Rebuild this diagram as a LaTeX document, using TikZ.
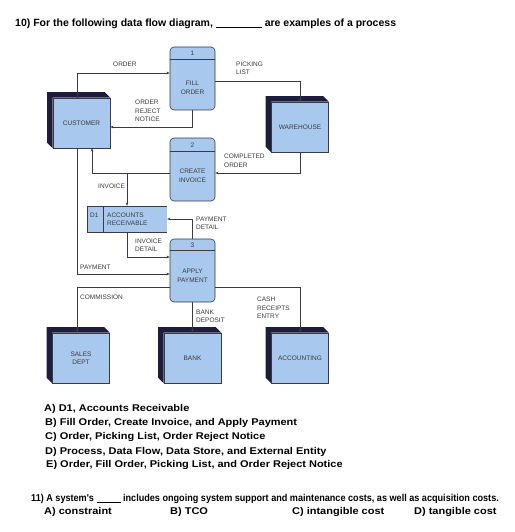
\documentclass[tikz,border=0pt]{standalone}
\usepackage{fontspec}
\setmainfont{Liberation Sans}
\newfontfamily\optfont[FakeStretch=1.12]{Liberation Sans}
\newfontfamily\narrowfont[FakeStretch=0.91]{Liberation Sans}
\usepackage{tikz}
\usetikzlibrary{positioning,arrows.meta,calc,backgrounds}
\definecolor{boxfill}{HTML}{A8C8EE}
\definecolor{navyside}{HTML}{1E1E3C}
\definecolor{edge}{HTML}{3A3A44}
\definecolor{ink}{HTML}{3C3C3C}
\newcommand{\lbl}{\fontsize{6.5}{8.5}\selectfont}

\begin{document}
\begin{tikzpicture}[
    x=1pt,y=-1pt,
    entity/.style={draw=edge,fill=boxfill,line width=0.6pt,minimum width=57pt,
                   minimum height=50pt,inner sep=0pt,align=center,font=\lbl,text=ink},
    process/.style={draw=edge,fill=boxfill,line width=0.6pt,rounded corners=4pt,
                    minimum width=45pt,minimum height=63pt,inner sep=0pt},
    store/.style={fill=boxfill,minimum width=80pt,minimum height=26pt,inner sep=0pt},
    flow/.style={draw=edge,line width=0.7pt,-{Stealth[length=3.2pt,width=2.6pt]}},
    dlabel/.style={font=\lbl,text=ink,align=left,inner sep=0pt,anchor=west},
    inbox/.style={font=\lbl,text=ink,align=center,inner sep=0pt},
    qtext/.style={font=\optfont\bfseries\fontsize{9.8}{10}\selectfont,inner sep=0pt,anchor=west}
  ]
  \useasboundingbox (0,0) rectangle (514,532);

  % question
  \node[qtext,font=\bfseries\fontsize{10.5}{12}\selectfont] (q10) at (15,24)
    {10) For the following data flow diagram, \rule[-0.8pt]{46pt}{0.7pt} are examples of a process};

  % external entities
  \node[entity] (cust) at (81.5,123) {CUSTOMER};
  \node[entity] (ware) at (300,127)  {WAREHOUSE};
  \node[entity] (sales) at (81,358)  {SALES\\DEPT};
  \node[entity] (bank) at (192.5,358) {BANK};
  \node[entity] (acct) at (300,358)  {ACCOUNTING};
  \begin{scope}[on background layer]
    \fill[white] (0,0) rectangle (514,532);
    \foreach \e in {cust,ware,sales,bank,acct}
      \fill[navyside] (\e.south west) -- ++(-5.5,-5.5) -- ($(\e.north west)+(-5.5,-5.5)$)
        -- ($(\e.north east)+(-5.5,-5.5)$) -- (\e.north east) -- (\e.north west) -- cycle;
  \end{scope}

  % processes
  \node[process] (fill) at (192.5,78.5) {};
  \node[process] (inv) at (192.5,169.5) {};
  \node[process] (pay) at (192.5,270.5) {};
  \draw[edge,line width=0.6pt] ($(fill.north west)+(0,13)$) -- ($(fill.north east)+(0,13)$);
  \draw[edge,line width=0.6pt] ($(inv.north west)+(0,14)$) -- ($(inv.north east)+(0,14)$);
  \draw[edge,line width=0.6pt] ($(pay.north west)+(0,12)$) -- ($(pay.north east)+(0,12)$);
  \node[inbox] (fillno) at (192.5,53.5) {1};
  \node[inbox] (invno) at (192.5,145.5) {2};
  \node[inbox] (payno) at (192.5,245.5) {3};
  \node[inbox] (filltx) at (192.5,88) {FILL\\ORDER};
  \node[inbox] (invtx) at (192.5,176) {CREATE\\INVOICE};
  \node[inbox] (paytx) at (192.5,276) {APPLY\\PAYMENT};

  % data store
  \node[store] (ar) at (127,219) {};
  \draw[edge,line width=0.6pt] (ar.north east) -- (ar.north west) -- (ar.south west) -- (ar.south east);
  \draw[edge,line width=0.6pt] ($(ar.north west)+(16,0)$) -- ($(ar.south west)+(16,0)$);
  \node[dlabel] (arid) at (90,215) {D1};
  \node[dlabel] (artx) at (107,219.5) {ACCOUNTS\\RECEIVABLE};

  % data flows
  \draw[flow] ([xshift=-4.5pt]cust.north) |- ([yshift=5.5pt]fill.west);
  \draw[flow] (fill.south) |- ([yshift=-4pt]cust.east);
  \draw[flow] ([yshift=-2.5pt]fill.east) -| (ware.north);
  \draw[flow] (ware.south) |- ([yshift=-3.5pt]inv.east);
  \draw[flow] ([yshift=-3.5pt]inv.west) -| ([xshift=10.5pt]cust.south);
  \coordinate (invsplit) at (127,173);
  \draw[flow] (invsplit) -- (ar.north);
  \draw[flow] (pay.north) |- (ar.east);
  \draw[flow] (ar.south) |- ([yshift=13.5pt]pay.west);
  \draw[flow] ([xshift=-4.5pt]cust.south) |- ([yshift=-3.5pt]pay.west);
  \draw[flow] ([yshift=-16.5pt]pay.west) -| ([xshift=-4pt]sales.north);
  \draw[flow] ([yshift=-16.5pt]pay.east) -| (acct.north);
  \draw[flow] (pay.south) -- (bank.north);

  % flow labels
  \node[dlabel] (lorder) at (113,64) {ORDER};
  \node[dlabel] (lpick) at (236,68.5) {PICKING\\LIST};
  \node[dlabel] (lreject) at (135,111) {ORDER\\REJECT\\NOTICE};
  \node[dlabel] (ldone) at (224,161) {COMPLETED\\ORDER};
  \node[dlabel] (linv) at (98,186) {INVOICE};
  \node[dlabel] (lpdet) at (196,223.5) {PAYMENT\\DETAIL};
  \node[dlabel] (lidet) at (135,245) {INVOICE\\DETAIL};
  \node[dlabel] (lpay) at (80,267) {PAYMENT};
  \node[dlabel] (lcomm) at (80,297) {COMMISSION};
  \node[dlabel] (lcash) at (257,308) {CASH\\RECEIPTS\\ENTRY};
  \node[dlabel] (lbank) at (196,316.5) {BANK\\DEPOSIT};

  % answers
  \node[qtext] (ansa) at (44,409) {A) D1, Accounts Receivable};
  \node[qtext] (ansb) at (45,423) {B) Fill Order, Create Invoice, and Apply Payment};
  \node[qtext] (ansc) at (45,437) {C) Order, Picking List, Order Reject Notice};
  \node[qtext] (ansd) at (45,451.5) {D) Process, Data Flow, Data Store, and External Entity};
  \node[qtext] (anse) at (46,465) {E) Order, Fill Order, Picking List, and Order Reject Notice};

  % next question
  \node[qtext,font=\narrowfont\bfseries\fontsize{10}{12}\selectfont] (q11) at (31,499)
    {11) A system's \rule[-0.8pt]{24pt}{0.7pt} includes ongoing system support and maintenance costs, as well as acquisition costs.};
  \node[qtext] (q11a) at (44,512) {A) constraint};
  \node[qtext] (q11b) at (170,512) {B) TCO};
  \node[qtext] (q11c) at (292,512) {C) intangible cost};
  \node[qtext] (q11d) at (414,512) {D) tangible cost};
\end{tikzpicture}
\end{document}
